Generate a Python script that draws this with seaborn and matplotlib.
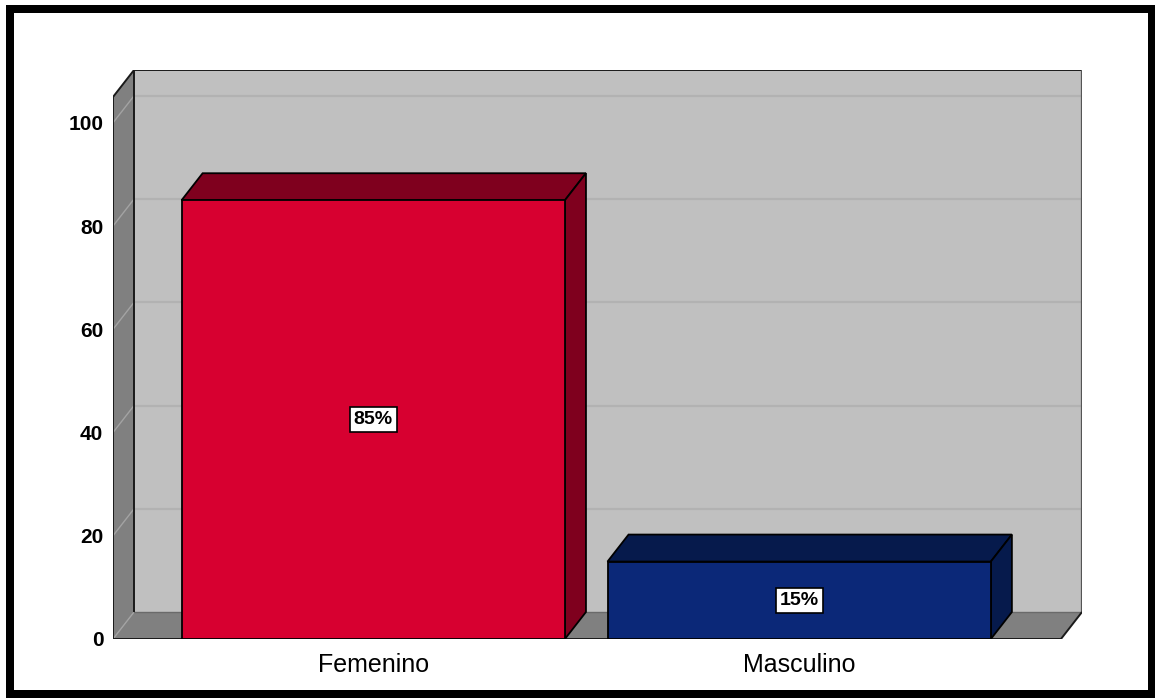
import matplotlib
matplotlib.use("Agg")
import matplotlib.pyplot as plt
from matplotlib.patches import Polygon, Rectangle
from matplotlib.lines import Line2D
import seaborn as sns
import pandas as pd

# Data
categories = ["Femenino", "Masculino"]
percentages = [85, 15]
y_ticks = [0, 20, 40, 60, 80, 100]

sns.set_style("white")
plt.rcParams["font.family"] = ["Liberation Sans", "DejaVu Sans"]
plt.rcParams["text.color"] = "black"
plt.rcParams["xtick.color"] = "black"
plt.rcParams["ytick.color"] = "black"

# Colours: front faces and shaded (top / side) faces
front_colors = ["#D70030", "#0B2878"]
shade_colors = ["#7F001E", "#061A4C"]
wall_back = "#C0C0C0"
wall_side = "#808080"
grid_back = "#B2B2B2"
grid_side = "#A3A3A3"

# 3D box geometry in data units
X0, X1 = -0.611, 1.6146      # front-left / front-right of floor
DX, DY = 0.0494, 5.23        # depth offset
YTOP = 105                   # top of the value axis on the front plane

fig = plt.figure(figsize=(11.55, 6.98), dpi=100)
ax = fig.add_axes([113 / 1155, (698 - 639) / 698, (1082 - 113) / 1155, (639 - 70) / 698])

df = pd.DataFrame({"cat": categories, "pct": percentages})
sns.barplot(data=df, x="cat", y="pct", hue="cat", palette=front_colors,
            saturation=1, width=0.9, edgecolor="black", linewidth=1.3,
            legend=False, ax=ax, zorder=3)

ax.set_xlim(X0, X1 + DX)
ax.set_ylim(0, YTOP + DY)

# Walls and floor
ax.add_patch(Polygon([(X0 + DX, DY), (X1 + DX, DY), (X1 + DX, YTOP + DY), (X0 + DX, YTOP + DY)],
                     closed=True, facecolor=wall_back, edgecolor="none", zorder=0))
ax.add_patch(Polygon([(X0, 0), (X0 + DX, DY), (X0 + DX, YTOP + DY), (X0, YTOP)],
                     closed=True, facecolor=wall_side, edgecolor="none", zorder=0.5))
ax.add_patch(Polygon([(X0, 0), (X1, 0), (X1 + DX, DY), (X0 + DX, DY)],
                     closed=True, facecolor=wall_side, edgecolor="none", zorder=0.5))

# Grid lines on the back and side walls
for t in y_ticks[1:]:
    ax.add_line(Line2D([X0 + DX, X1 + DX], [t + DY, t + DY], color=grid_back, lw=1.6, zorder=0.2))
    ax.add_line(Line2D([X0, X0 + DX], [t, t + DY], color=grid_side, lw=1.0, zorder=0.6))
ax.add_line(Line2D([X0, X0 + DX], [0, DY], color=grid_side, lw=1.0, zorder=0.6))

# Outlines of the box
edge_kw = dict(color="#1a1a1a", lw=1.4, zorder=1, solid_capstyle="butt")
ax.add_line(Line2D([X0, X0], [0, YTOP], **edge_kw))
ax.add_line(Line2D([X0 + DX, X0 + DX], [DY, YTOP + DY], **edge_kw))
ax.add_line(Line2D([X0, X0 + DX], [YTOP, YTOP + DY], **edge_kw))
ax.add_line(Line2D([X0 + DX, X1 + DX], [YTOP + DY, YTOP + DY], **edge_kw))
ax.add_line(Line2D([X1 + DX, X1 + DX], [DY, YTOP + DY], color="#555555", lw=1.6, zorder=1))
ax.add_line(Line2D([X0, X1], [0, 0], **edge_kw))
ax.add_line(Line2D([X1, X1 + DX], [0, DY], **edge_kw))
ax.add_line(Line2D([X0 + DX, X1 + DX], [DY, DY], color="#6a6a6a", lw=1.0, zorder=0.7))

# Top and side faces of each bar
bars = [p for c in ax.containers for p in c]
for bar, shade in zip(bars, shade_colors):
    x, w, h = bar.get_x(), bar.get_width(), bar.get_height()
    ax.add_patch(Polygon([(x, h), (x + DX, h + DY), (x + w + DX, h + DY), (x + w, h)],
                         closed=True, facecolor=shade, edgecolor="black", lw=1.3, zorder=2.9))
    ax.add_patch(Polygon([(x + w, 0), (x + w + DX, DY), (x + w + DX, h + DY), (x + w, h)],
                         closed=True, facecolor=shade, edgecolor="black", lw=1.3, zorder=2.9))

# Value labels in white boxes
for c in ax.containers:
    vals = [p.get_height() for p in c]
    ax.bar_label(c, labels=[f"{v:.0f}%" for v in vals], label_type="center",
                 fontsize=14, fontweight="bold", color="black", zorder=5,
                 bbox=dict(boxstyle="square,pad=0.2", facecolor="white",
                           edgecolor="black", linewidth=1.2))

# Axes styling
for s in ax.spines.values():
    s.set_visible(False)
ax.set_yticks(y_ticks)
ax.set_yticklabels([str(t) for t in y_ticks], fontsize=15, fontweight="bold")
ax.tick_params(axis="y", length=0, pad=7)
ax.tick_params(axis="x", length=0, pad=10, labelsize=18)
ax.set_xlabel("")
ax.set_ylabel("")
ax.grid(False)
ax.set_facecolor("none")

# Outer frame
fig.patches.append(Rectangle((10 / 1155, 4 / 698), 1141.5 / 1155, 685 / 698,
                             transform=fig.transFigure, fill=False,
                             edgecolor="black", linewidth=8 * 0.72))

fig.savefig("out.png", dpi=100)
